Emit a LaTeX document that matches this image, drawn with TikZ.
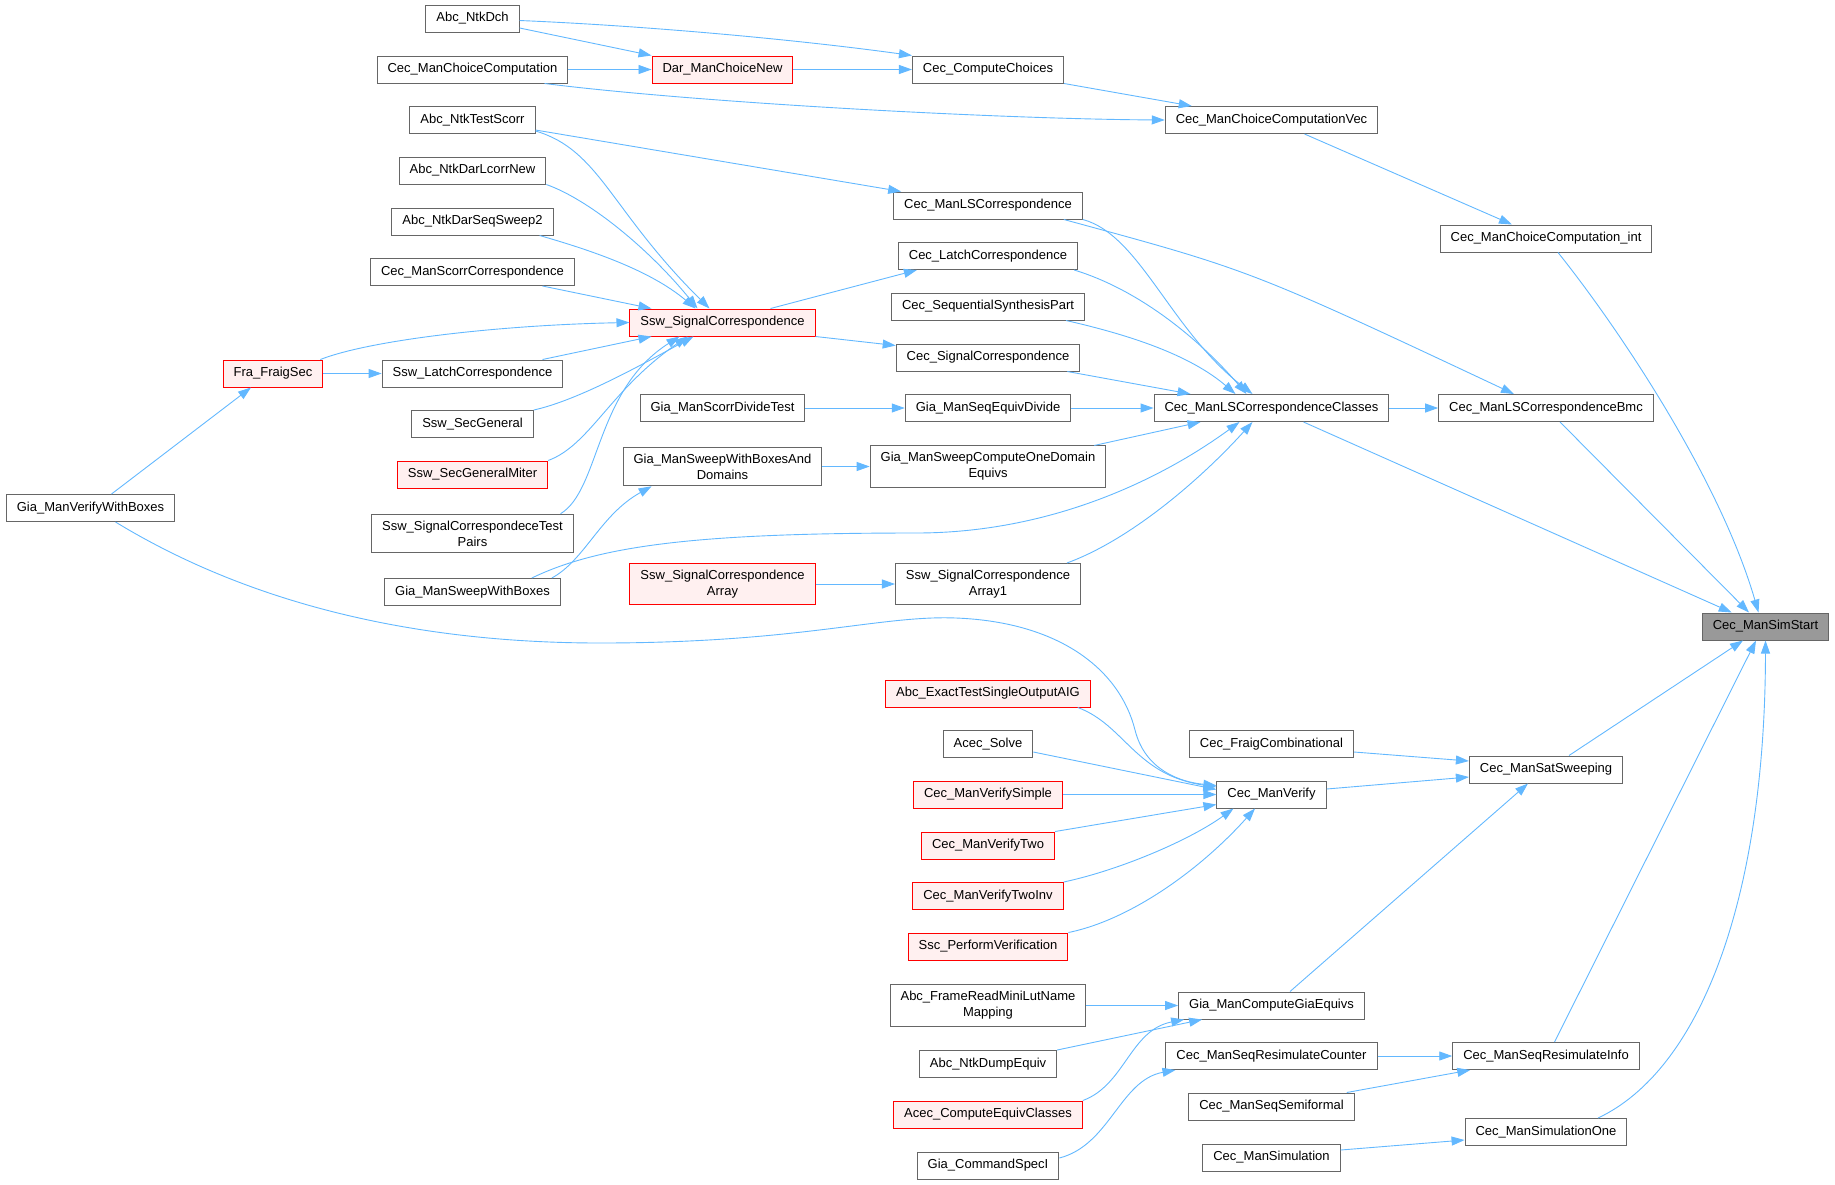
\documentclass[tikz,border=0pt]{standalone}
\usepackage{fontspec}
\setmainfont{Liberation Sans}
\usetikzlibrary{arrows.meta}

\definecolor{edgeblue}{HTML}{63B8FF}
\definecolor{boxgray}{HTML}{666666}
\definecolor{redfill}{HTML}{FFF0F0}
\definecolor{rootfill}{HTML}{999999}

\tikzset{
  box/.style={draw=boxgray, fill=white, line width=1pt, align=center,
    font=\fontsize{13}{16}\selectfont, inner xsep=10.5pt, inner ysep=6.5pt,
    minimum height=27pt},
  redbox/.style={box, draw=red, fill=redfill},
  rootbox/.style={box, fill=rootfill},
  call/.style={draw=edgeblue, line width=0.9pt, -{Triangle[length=13pt,width=9pt]}}
}

\begin{document}
\begin{tikzpicture}[x=1pt,y=-1pt]
    \useasboundingbox (0,0) rectangle (1835,1184);

    % left columns
    \node[box] (vwb) at (90.5,508) {Gia\_ManVerifyWithBoxes};
    \node[redbox] (fraig) at (273,373.5) {Fra\_FraigSec};

    \node[box] (ntkdch) at (472.5,18.5) {Abc\_NtkDch};
    \node[box] (choicecomp) at (472.5,69.5) {Cec\_ManChoiceComputation};
    \node[box] (testscorr) at (472.5,120) {Abc\_NtkTestScorr};
    \node[box] (darlcorr) at (472.5,170.5) {Abc\_NtkDarLcorrNew};
    \node[box] (darseq) at (472.5,221.5) {Abc\_NtkDarSeqSweep2};
    \node[box] (scorrcorr) at (472.5,272) {Cec\_ManScorrCorrespondence};
    \node[box] (sswlatch) at (472.5,373.5) {Ssw\_LatchCorrespondence};
    \node[box] (secgen) at (472.5,424) {Ssw\_SecGeneral};
    \node[redbox] (secmiter) at (472.5,474.5) {Ssw\_SecGeneralMiter};
    \node[box] (testpairs) at (472.5,533.5) {Ssw\_SignalCorrespondeceTest\\Pairs};
    \node[box] (sweepbox) at (472.5,592) {Gia\_ManSweepWithBoxes};

    \node[redbox] (choicenew) at (722.5,69.5) {Dar\_ManChoiceNew};
    \node[redbox] (sswsig) at (722.5,322.5) {Ssw\_SignalCorrespondence};
    \node[box] (divtest) at (722.5,408) {Gia\_ManScorrDivideTest};
    \node[box] (sweepdom) at (722.5,466.5) {Gia\_ManSweepWithBoxesAnd\\Domains};
    \node[redbox] (sigarr) at (722.5,584) {Ssw\_SignalCorrespondence\\Array};

    % middle column
    \node[box] (compchoices) at (988,69.5) {Cec\_ComputeChoices};
    \node[box] (lscorr) at (988,205.5) {Cec\_ManLSCorrespondence};
    \node[box] (ceclatch) at (988,256) {Cec\_LatchCorrespondence};
    \node[box] (seqsynth) at (988,306.5) {Cec\_SequentialSynthesisPart};
    \node[box] (cecsig) at (988,357.5) {Cec\_SignalCorrespondence};
    \node[box] (seqdiv) at (988,408) {Gia\_ManSeqEquivDivide};
    \node[box] (onedom) at (988,466.5) {Gia\_ManSweepComputeOneDomain\\Equivs};
    \node[box] (sigarr1) at (988,584) {Ssw\_SignalCorrespondence\\Array1};
    \node[redbox] (exact) at (988,693.5) {Abc\_ExactTestSingleOutputAIG};
    \node[box] (acecsolve) at (988,744) {Acec\_Solve};
    \node[redbox] (vsimple) at (988,794.5) {Cec\_ManVerifySimple};
    \node[redbox] (vtwo) at (988,845.5) {Cec\_ManVerifyTwo};
    \node[redbox] (vtwoinv) at (988,896) {Cec\_ManVerifyTwoInv};
    \node[redbox] (sscperf) at (988,946.5) {Ssc\_PerformVerification};
    \node[box] (minilut) at (988,1005.5) {Abc\_FrameReadMiniLutName\\Mapping};
    \node[box] (dumpequiv) at (988,1064) {Abc\_NtkDumpEquiv};
    \node[redbox] (acecequiv) at (988,1114.5) {Acec\_ComputeEquivClasses};
    \node[box] (specI) at (988,1165.5) {Gia\_CommandSpecI};

    % right columns
    \node[box] (choicevec) at (1271.5,120) {Cec\_ManChoiceComputationVec};
    \node[box] (lsclasses) at (1271.5,408) {Cec\_ManLSCorrespondenceClasses};
    \node[box] (fraigcomb) at (1271.5,744) {Cec\_FraigCombinational};
    \node[box] (manverify) at (1271.5,794.5) {Cec\_ManVerify};
    \node[box] (giaequivs) at (1271.5,1005.5) {Gia\_ManComputeGiaEquivs};
    \node[box] (resimcnt) at (1271.5,1056) {Cec\_ManSeqResimulateCounter};
    \node[box] (semiformal) at (1271.5,1106.5) {Cec\_ManSeqSemiformal};
    \node[box] (simulation) at (1271.5,1157.5) {Cec\_ManSimulation};

    \node[box] (choiceint) at (1546,238.5) {Cec\_ManChoiceComputation\_int};
    \node[box] (lsbmc) at (1546,408) {Cec\_ManLSCorrespondenceBmc};
    \node[box] (satsweep) at (1546,769.5) {Cec\_ManSatSweeping};
    \node[box] (resiminfo) at (1546,1056) {Cec\_ManSeqResimulateInfo};
    \node[box] (simone) at (1546,1132) {Cec\_ManSimulationOne};

    \node[rootbox] (simstart) at (1765.5,626.5) {Cec\_ManSimStart};

    % top part
    \draw[call] ([yshift=-2pt]ntkdch.east) .. controls (650,26) and (800,40) .. (compchoices.north west);
    \draw[call] ([yshift=-9.5pt]ntkdch.east) -- (choicenew.north west);
    \draw[call] (choicecomp.east) -- (choicenew.west);
    \draw[call] ([xshift=72pt]choicecomp.south) .. controls (700,103) and (1000,119) .. (choicevec.west);
    \draw[call] (choicenew.east) -- (compchoices.west);
    \draw[call] (compchoices.south east) -- ([xshift=27pt]choicevec.north west);
    \draw[call] ([xshift=33pt]choicevec.south) -- ([xshift=-34pt]choiceint.north);
    \draw[call] ([xshift=12pt]choiceint.south) .. controls (1620,330) and (1720,480) .. ([xshift=-7pt]simstart.north);

    % into Ssw_SignalCorrespondence
    \draw[call] ([yshift=-10pt]testscorr.east) -- ([xshift=8pt]lscorr.north west);
    \draw[call] ([yshift=-11pt]testscorr.east) .. controls (600,150) and (610,210) .. ([xshift=-13pt]sswsig.north);
    \draw[call] (darlcorr.south east) .. controls (590,200) and (650,250) .. ([xshift=-25pt]sswsig.north);
    \draw[call] ([xshift=-14pt]darseq.south east) .. controls (590,250) and (650,270) .. ([xshift=-27pt]sswsig.north);
    \draw[call] ([xshift=70pt]scorrcorr.south) -- ([xshift=22pt]sswsig.north west);
    \draw[call] ([xshift=-3pt]fraig.north east) .. controls (370,340) and (500,325) .. (sswsig.west);
    \draw[call] (fraig.east) -- (sswlatch.west);
    \draw[call] ([xshift=70pt]sswlatch.north) -- ([xshift=22pt]sswsig.south west);
    \draw[call] (secgen.north east) .. controls (580,400) and (650,360) .. ([xshift=-29pt]sswsig.south);
    \draw[call] (secmiter.north east) .. controls (590,445) and (610,390) .. ([xshift=-35pt]sswsig.south);
    \draw[call] ([xshift=88pt]testpairs.north) .. controls (600,490) and (595,390) .. ([xshift=-43pt]sswsig.south);
    \draw[call] ([xshift=48pt]sswsig.north) -- ([xshift=19pt]ceclatch.south west);
    \draw[call] (sswsig.south east) -- ([yshift=12pt]cecsig.west);

    % into Cec_ManLSCorrespondenceClasses
    \draw[call] (lscorr.south east) .. controls (1140,235) and (1170,330) .. ([xshift=-19pt]lsclasses.north);
    \draw[call] ([xshift=-4pt]ceclatch.south east) .. controls (1140,290) and (1200,340) .. ([xshift=-25pt]lsclasses.north);
    \draw[call] ([xshift=-19pt]seqsynth.south east) .. controls (1130,335) and (1190,355) .. ([xshift=-36pt]lsclasses.north);
    \draw[call] ([xshift=-13pt]cecsig.south east) -- ([xshift=37pt]lsclasses.north west);
    \draw[call] (divtest.east) -- (seqdiv.west);
    \draw[call] (seqdiv.east) -- (lsclasses.west);
    \draw[call] (sweepdom.east) -- (onedom.west);
    \draw[call] ([xshift=-12pt]onedom.north east) -- ([xshift=47pt]lsclasses.south west);
    \draw[call] ([xshift=-9pt]sweepbox.north east) .. controls (585,560) and (600,515) .. ([xshift=29pt]sweepdom.south west);
    \draw[call] ([xshift=-29pt]sweepbox.north east) .. controls (600,545) and (700,533) .. (916,533)
        .. controls (1050,533) and (1160,480) .. ([xshift=-32pt]lsclasses.south);
    \draw[call] (sigarr.east) -- (sigarr1.west);
    \draw[call] ([xshift=-14pt]sigarr1.north east) .. controls (1130,540) and (1200,480) .. ([xshift=-19pt]lsclasses.south);
    \draw[call] (lsclasses.east) -- (lsbmc.west);
    \draw[call] ([xshift=-19pt]lscorr.south east) .. controls (1250,270) .. ([xshift=-32pt]lsbmc.north);

    % into Cec_ManSimStart
    \draw[call] ([xshift=32pt]lsclasses.south) -- ([xshift=30pt]simstart.north west);
    \draw[call] ([xshift=14pt]lsbmc.south) -- ([xshift=-16.5pt]simstart.north);
    \draw[call] ([xshift=23pt]satsweep.north) -- ([xshift=-22.5pt]simstart.south);
    \draw[call] ([xshift=8.5pt]resiminfo.north) -- ([xshift=-9.5pt]simstart.south);
    \draw[call] ([xshift=52pt]simone.north) .. controls (1700,1070) and (1765,900) .. (simstart.south);

    % into Cec_ManSatSweeping
    \draw[call] ([yshift=-8pt]fraigcomb.east) -- ([yshift=8.5pt]satsweep.west);
    \draw[call] ([yshift=5.5pt]manverify.east) -- ([yshift=-7.5pt]satsweep.west);
    \draw[call] ([xshift=18.5pt]giaequivs.north) -- ([xshift=-18pt]satsweep.south);

    % into Cec_ManVerify
    \draw[call] ([xshift=21pt]vwb.north) -- ([xshift=-22pt]fraig.south);
    \draw[call] ([xshift=25pt]vwb.south) .. controls (260,610) and (430,643) .. (600,643)
        .. controls (800,643) and (880,615) .. (956,618)
        .. controls (1060,622) and (1120,670) .. (1135,730)
        .. controls (1145,770) and (1180,782) .. ([yshift=9pt]manverify.west);
    \draw[call] ([xshift=-13pt]exact.south east) .. controls (1125,725) and (1135,775) .. ([yshift=7.5pt]manverify.west);
    \draw[call] ([yshift=-8pt]acecsolve.east) -- ([yshift=5pt]manverify.west);
    \draw[call] (vsimple.east) -- (manverify.west);
    \draw[call] (vtwo.north east) -- ([yshift=-10pt]manverify.west);
    \draw[call] (vtwoinv.north east) .. controls (1120,870) and (1190,840) .. ([xshift=-38pt]manverify.south);
    \draw[call] (sscperf.north east) .. controls (1130,920) and (1200,870) .. ([xshift=-16.5pt]manverify.south);

    % bottom part
    \draw[call] (minilut.east) -- (giaequivs.west);
    \draw[call] (dumpequiv.north east) -- ([xshift=24pt]giaequivs.south west);
    \draw[call] (acecequiv.north east) .. controls (1125,1085) and (1130,1030) .. ([xshift=6pt]giaequivs.south west);
    \draw[call] ([yshift=7.5pt]specI.east) .. controls (1110,1145) and (1120,1080) .. ([xshift=10pt]resimcnt.south west);
    \draw[call] (resimcnt.east) -- (resiminfo.west);
    \draw[call] ([xshift=-8pt]semiformal.north east) -- ([xshift=18pt]resiminfo.south west);
    \draw[call] ([yshift=7.5pt]simulation.east) -- ([yshift=-8pt]simone.west);
\end{tikzpicture}
\end{document}
